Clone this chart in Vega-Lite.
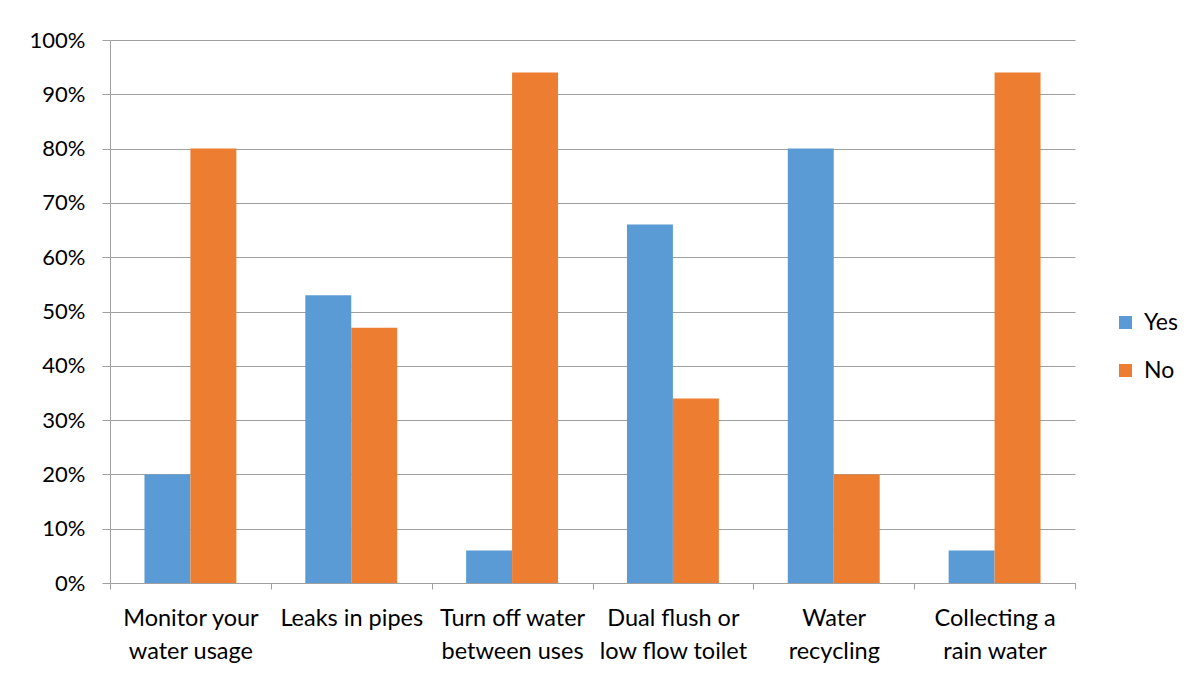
{
  "$schema": "https://vega.github.io/schema/vega-lite/v6.json",
  "autosize": {"type": "none"},
  "width": 965,
  "height": 543,
  "padding": {"left": 110, "top": 40, "right": 121, "bottom": 93},
  "background": "white",
  "data": {
    "values": [
      {"category": "Monitor your water usage", "answer": "Yes", "share": 0.20},
      {"category": "Monitor your water usage", "answer": "No", "share": 0.80},
      {"category": "Leaks in pipes", "answer": "Yes", "share": 0.53},
      {"category": "Leaks in pipes", "answer": "No", "share": 0.47},
      {"category": "Turn off water between uses", "answer": "Yes", "share": 0.06},
      {"category": "Turn off water between uses", "answer": "No", "share": 0.94},
      {"category": "Dual flush or low flow toilet", "answer": "Yes", "share": 0.66},
      {"category": "Dual flush or low flow toilet", "answer": "No", "share": 0.34},
      {"category": "Water recycling", "answer": "Yes", "share": 0.80},
      {"category": "Water recycling", "answer": "No", "share": 0.20},
      {"category": "Collecting a rain water", "answer": "Yes", "share": 0.06},
      {"category": "Collecting a rain water", "answer": "No", "share": 0.94}
    ]
  },
  "mark": {"type": "bar"},
  "encoding": {
    "x": {
      "field": "category",
      "type": "nominal",
      "sort": null,
      "scale": {"paddingInner": 0, "paddingOuter": 0},
      "axis": {
        "title": null,
        "labelAngle": 0,
        "labelFont": "Lato",
        "labelFontSize": 23.5,
        "labelColor": "#000000",
        "labelLineHeight": 33,
        "labelPadding": 17,
        "labelLimit": 300,
        "tickBand": "extent",
        "tickSize": 6,
        "tickColor": "#a0a0a0",
        "domainColor": "#a0a0a0",
        "labelExpr": "datum.value == 'Monitor your water usage' ? ['Monitor your', 'water usage'] : datum.value == 'Turn off water between uses' ? ['Turn off water', 'between uses'] : datum.value == 'Dual flush or low flow toilet' ? ['Dual flush or', 'low flow toilet'] : datum.value == 'Water recycling' ? ['Water', 'recycling'] : datum.value == 'Collecting a rain water' ? ['Collecting a', 'rain water'] : datum.value"
      }
    },
    "xOffset": {
      "field": "answer",
      "type": "nominal",
      "sort": ["Yes", "No"],
      "scale": {"paddingInner": 0, "paddingOuter": 0.75}
    },
    "y": {
      "field": "share",
      "type": "quantitative",
      "scale": {"domain": [0, 1], "nice": false},
      "axis": {
        "title": null,
        "format": ".0%",
        "values": [0, 0.1, 0.2, 0.3, 0.4, 0.5, 0.6, 0.7, 0.8, 0.9, 1],
        "labelFont": "Lato",
        "labelFontSize": 22,
        "labelColor": "#000000",
        "labelPadding": 17,
        "tickSize": 8,
        "tickColor": "#a0a0a0",
        "domainColor": "#a0a0a0",
        "gridColor": "#a0a0a0",
        "grid": true
      }
    },
    "color": {
      "field": "answer",
      "type": "nominal",
      "sort": ["Yes", "No"],
      "scale": {"domain": ["Yes", "No"], "range": ["#5B9BD5", "#ED7D31"]},
      "legend": {
        "title": null,
        "orient": "none",
        "legendX": 1004,
        "legendY": 271,
        "symbolType": "square",
        "symbolSize": 169,
        "symbolStrokeWidth": 0,
        "labelFont": "Lato",
        "labelFontSize": 23,
        "labelColor": "#000000",
        "labelOffset": 7,
        "rowPadding": 24
      }
    }
  },
  "config": {
    "view": {"stroke": null},
    "axis": {"domainWidth": 1, "gridWidth": 1, "tickWidth": 1}
  }
}
